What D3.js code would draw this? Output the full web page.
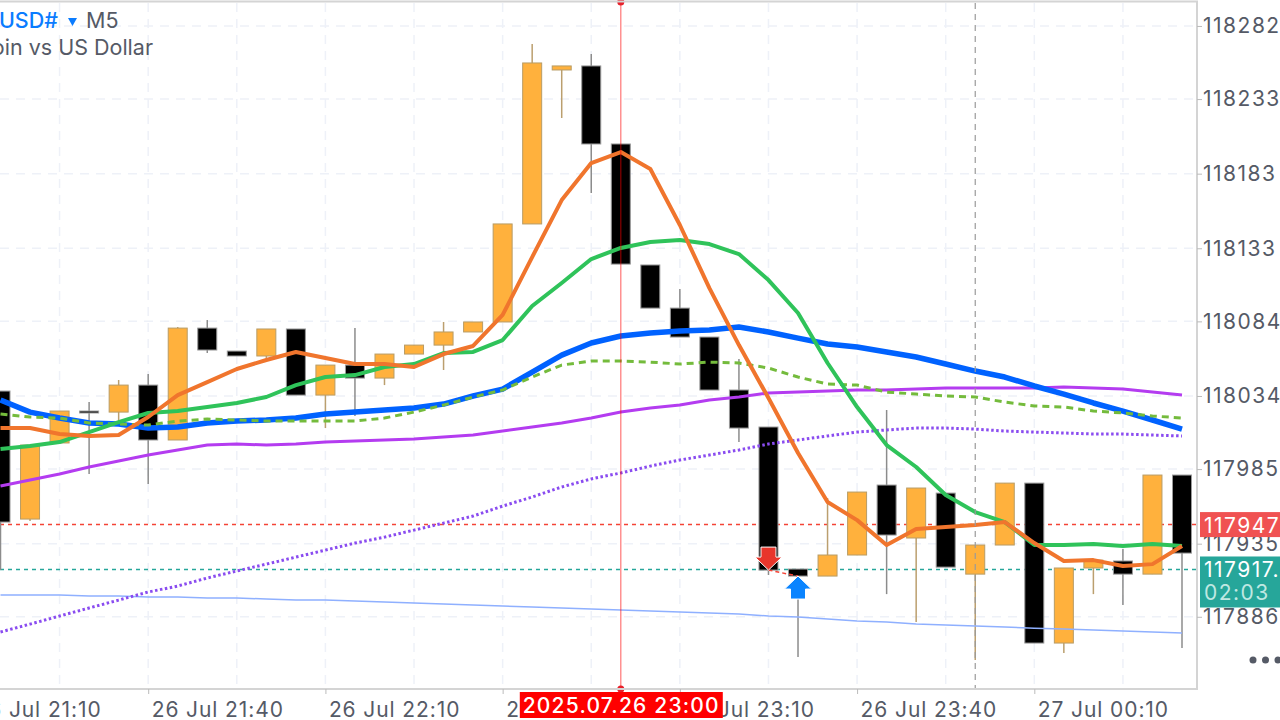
<!DOCTYPE html>
<html>
	<head>
		<title>BTCUSD# M5</title>
		<style>
			body, html {
				margin: 0;
				background: #fff;
				overflow: hidden;
			}
			text {
				font-family: Inter, "Noto Sans", sans-serif;
			}
		</style>
	</head>
	<body>

		<svg id="svg" width="1280" height="720"></svg>

		<script src="https://d3js.org/d3.v7.min.js"></script>
		<script>
			// Candle times, 5 minute bars
			const candleTimes = [
				'2025.07.26 21:15', '2025.07.26 21:20', '2025.07.26 21:25', '2025.07.26 21:30', '2025.07.26 21:35',
				'2025.07.26 21:40', '2025.07.26 21:45', '2025.07.26 21:50', '2025.07.26 21:55', '2025.07.26 22:00',
				'2025.07.26 22:05', '2025.07.26 22:10', '2025.07.26 22:15', '2025.07.26 22:20', '2025.07.26 22:25',
				'2025.07.26 22:30', '2025.07.26 22:35', '2025.07.26 22:40', '2025.07.26 22:45', '2025.07.26 22:50',
				'2025.07.26 22:55', '2025.07.26 23:00', '2025.07.26 23:05', '2025.07.26 23:10', '2025.07.26 23:15',
				'2025.07.26 23:20', '2025.07.26 23:25', '2025.07.26 23:30', '2025.07.26 23:35', '2025.07.26 23:40',
				'2025.07.26 23:45', '2025.07.26 23:50', '2025.07.26 23:55', '2025.07.27 00:00', '2025.07.27 00:05',
				'2025.07.27 00:10', '2025.07.27 00:15', '2025.07.27 00:20', '2025.07.27 00:25', '2025.07.27 00:30',
				'2025.07.27 00:35'
			]

			const opens = [118037.3, 117951.5, 118002.5, 118023.9, 118023.2, 118041.3, 118004.5, 118079.5, 118064.1, 118060.8, 118078.9, 118034.6, 118054.7, 118046.0, 118062.1, 118068.1, 118076.9, 118083.6, 118149.3, 118252.5, 118255.2, 118202.9, 118121.8, 118092.9, 118073.5, 118038.0, 118013.2, 117918.0, 117913.3, 117927.4, 117974.3, 117938.8, 117968.9, 117914.6, 117934.1, 117975.6, 117868.4, 117918.7, 117923.4, 117914.6, 117981.0]
			const highs = [118037.3, 118001.1, 118023.9, 118029.9, 118044.7, 118048.7, 118080.2, 118084.9, 118064.1, 118078.9, 118078.9, 118054.7, 118079.5, 118062.1, 118068.1, 118083.6, 118083.6, 118149.3, 118269.9, 118255.2, 118263.2, 118202.9, 118121.8, 118105.7, 118073.5, 118058.8, 118013.2, 117918.0, 117965.6, 117969.6, 118024.6, 117972.3, 117968.9, 117934.1, 117975.6, 117975.6, 117918.7, 117924.0, 117931.4, 117981.0, 117981.0]
			const lows = [117917.3, 117950.2, 118002.5, 117981.7, 118017.2, 117975.0, 118004.5, 118062.8, 118060.8, 118059.4, 118034.6, 118012.5, 118020.6, 118041.3, 118062.1, 118051.4, 118076.9, 118083.6, 118149.3, 118220.3, 118170.0, 118122.4, 118092.9, 118073.5, 118038.0, 118003.1, 117914.0, 117859.0, 117913.3, 117927.4, 117901.2, 117882.5, 117919.3, 117857.0, 117934.1, 117868.4, 117861.7, 117901.2, 117893.9, 117914.6, 117865.0]
			const closes = [117949.5, 118001.1, 118023.9, 118022.6, 118041.3, 118004.5, 118079.5, 118064.8, 118060.8, 118078.9, 118034.6, 118054.7, 118046.0, 118062.1, 118068.1, 118076.9, 118083.6, 118149.3, 118257.2, 118255.2, 118202.9, 118122.4, 118092.9, 118073.5, 118038.0, 118012.5, 117917.3, 117913.3, 117927.4, 117969.6, 117940.8, 117972.3, 117919.3, 117934.1, 117975.6, 117868.4, 117918.7, 117924.0, 117914.6, 117981.0, 117928.7]

			// Moving averages
			const maFast = [118012.5, 118012.5, 118008.5, 118007.2, 118007.8, 118019.9, 118034.6, 118043.3, 118052.1, 118058.1, 118063.5, 118059.4, 118055.4, 118055.4, 118053.4, 118062.1, 118067.5, 118088.3, 118127.1, 118165.3, 118190.1, 118197.5, 118186.1, 118148.6, 118106.3, 118068.1, 118032.6, 117995.8, 117962.9, 117950.8, 117934.1, 117944.8, 117946.1, 117947.5, 117949.5, 117935.4, 117923.4, 117924.0, 117920.0, 117921.3, 117933.4]
			const maGreen = [117998.4, 118000.4, 118003.1, 118009.8, 118016.5, 118022.6, 118023.9, 118026.6, 118029.3, 118033.3, 118041.3, 118046.7, 118048.0, 118053.4, 118055.4, 118062.8, 118063.5, 118071.5, 118094.3, 118109.7, 118125.8, 118133.2, 118137.2, 118138.5, 118135.8, 118129.1, 118111.7, 118089.6, 118056.1, 118026.6, 118001.1, 117986.4, 117967.6, 117956.2, 117949.5, 117934.1, 117934.1, 117934.8, 117933.4, 117934.8, 117933.4]
			const maBlue = [118031.3, 118023.2, 118019.2, 118015.9, 118015.2, 118012.5, 118013.2, 118015.9, 118017.2, 118017.9, 118019.2, 118021.9, 118023.2, 118024.6, 118025.9, 118028.6, 118034.0, 118038.6, 118050.0, 118061.4, 118069.5, 118074.2, 118076.2, 118077.5, 118078.2, 118080.2, 118076.9, 118072.8, 118068.8, 118066.8, 118063.5, 118060.1, 118055.4, 118050.7, 118046.7, 118040.7, 118035.3, 118029.3, 118023.9, 118017.9, 118011.8]
			const maLime = [118021.9, 118019.9, 118019.2, 118015.9, 118015.2, 118014.5, 118017.2, 118018.5, 118017.9, 118017.2, 118017.2, 118017.2, 118017.2, 118019.2, 118023.2, 118027.9, 118033.3, 118038.0, 118046.7, 118054.7, 118057.4, 118057.4, 118056.7, 118055.4, 118056.7, 118056.1, 118052.7, 118046.7, 118042.0, 118041.3, 118036.6, 118035.3, 118034.0, 118033.3, 118029.9, 118027.3, 118026.6, 118023.9, 118022.6, 118020.6, 118019.2]
			const maPurple = [117973.6, 117977.7, 117981.7, 117986.4, 117990.4, 117994.4, 117997.8, 118001.1, 118001.8, 118001.1, 118001.8, 118003.1, 118003.8, 118004.5, 118005.1, 118006.5, 118007.8, 118010.5, 118013.2, 118015.9, 118019.2, 118023.2, 118025.9, 118027.9, 118031.3, 118033.3, 118036.0, 118036.6, 118037.3, 118038.0, 118038.0, 118038.6, 118039.3, 118039.3, 118039.3, 118039.3, 118040.0, 118039.3, 118038.6, 118036.6, 118034.6]
			const maDotted = [117875.8, 117881.1, 117886.5, 117891.9, 117897.2, 117902.6, 117906.6, 117912.0, 117916.7, 117921.3, 117926.0, 117930.7, 117935.4, 117939.4, 117944.1, 117948.8, 117953.5, 117960.2, 117966.3, 117973.0, 117978.4, 117982.4, 117987.0, 117991.1, 117994.4, 117997.8, 118001.8, 118004.5, 118007.2, 118009.8, 118011.2, 118012.5, 118012.5, 118011.8, 118010.5, 118009.8, 118009.2, 118008.5, 118008.5, 118007.8, 118007.2]
			const maThin = [117900.6, 117900.6, 117900.6, 117899.9, 117899.9, 117899.2, 117899.2, 117898.6, 117898.6, 117897.9, 117897.2, 117897.2, 117896.5, 117895.9, 117895.2, 117894.5, 117893.9, 117893.2, 117892.5, 117891.9, 117891.2, 117890.5, 117889.8, 117889.2, 117888.5, 117887.8, 117886.5, 117885.8, 117884.5, 117883.1, 117882.5, 117881.1, 117880.5, 117879.8, 117879.1, 117878.4, 117877.8, 117877.1, 117876.4, 117875.8, 117875.1]

			// Axis ticks
			const priceTicks = [118282, 118233, 118183, 118133, 118084, 118034, 117985, 117935, 117886]
			const timeLabels = ['2025.07.26 21:10', '2025.07.26 21:40', '2025.07.26 22:10', '2025.07.26 22:40', '2025.07.26 23:10', '2025.07.26 23:40', '2025.07.27 00:10']
			const gridTimes = ['2025.07.26 21:25', '2025.07.26 21:40', '2025.07.26 21:55', '2025.07.26 22:10', '2025.07.26 22:25', '2025.07.26 22:40', '2025.07.26 22:55', '2025.07.26 23:10', '2025.07.26 23:25', '2025.07.26 23:40', '2025.07.26 23:55', '2025.07.27 00:10', '2025.07.27 00:25']

			// Price lines, markers
			const askPrice = 117947.8
			const bidPrice = 117917.7
			const selectedTime = '2025.07.26 23:00'
			const periodTime = '2025.07.27 00:00'
			const sellTime = '2025.07.26 23:25'
			const sellPrice = 117917.3
			const buyTime = '2025.07.26 23:30'
			const buyPrice = 117913.3

			const parseTime = d3.utcParse('%Y.%m.%d %H:%M')
			const plotRight = 1197
			const plotBottom = 689

			const xScale = d3.scaleUtc()
				.domain([parseTime(candleTimes[0]), parseTime(candleTimes[40])])
				.range([0.5, 1182])

			const yScale = d3.scaleLinear()
				.domain([118299.4, 117837.6])
				.range([0, plotBottom])

			const x = t => xScale(parseTime(t))

			const svg = d3.select('#svg')
			const grey = '#555a66'

			// Grid
			svg.append('g')
				.selectAll('line')
				.data(priceTicks)
				.enter()
				.append('line')
				.attr('x1', 0)
				.attr('x2', plotRight)
				.attr('y1', d => yScale(d))
				.attr('y2', d => yScale(d))
				.attr('stroke', '#eef1f8')
				.attr('stroke-width', 1.5)
				.attr('stroke-dasharray', '9,7')

			svg.append('g')
				.selectAll('line')
				.data(gridTimes)
				.enter()
				.append('line')
				.attr('x1', d => x(d))
				.attr('x2', d => x(d))
				.attr('y1', 3)
				.attr('y2', plotBottom)
				.attr('stroke', '#eef1f8')
				.attr('stroke-width', 1.5)
				.attr('stroke-dasharray', '9,7')

			// Horizontal price lines go under the candles
			svg.append('line')
				.attr('x1', 0).attr('x2', plotRight)
				.attr('y1', yScale(askPrice)).attr('y2', yScale(askPrice))
				.attr('stroke', '#f44336')
				.attr('stroke-width', 1.5)
				.attr('stroke-dasharray', '4,4')
			svg.append('line')
				.attr('x1', 0).attr('x2', plotRight)
				.attr('y1', yScale(bidPrice)).attr('y2', yScale(bidPrice))
				.attr('stroke', '#26a69a')
				.attr('stroke-width', 1.5)
				.attr('stroke-dasharray', '4,4')

			// Candles
			const candles = candleTimes.map((t, i) => ({
				t,
				open: opens[i],
				high: highs[i],
				low: lows[i],
				close: closes[i],
				up: closes[i] > opens[i]
			}))

			const bodyWidth = 19

			const candle = svg.append('g')
				.selectAll('g')
				.data(candles)
				.enter()
				.append('g')
				.attr('transform', d => `translate(${x(d.t)}, 0)`)

			candle.append('line')
				.attr('y1', d => yScale(d.high))
				.attr('y2', d => yScale(d.low))
				.attr('stroke', d => d.up ? '#bb9f6e' : '#8c8c8c')
				.attr('stroke-width', 1.5)

			candle.append('rect')
				.attr('x', -bodyWidth / 2)
				.attr('width', bodyWidth)
				.attr('y', d => yScale(Math.max(d.open, d.close)))
				.attr('height', d => Math.abs(yScale(d.open) - yScale(d.close)))
				.attr('fill', d => d.up ? '#ffb13d' : '#000')
				.attr('stroke', d => d.up ? '#b89c66' : '#999')
				.attr('stroke-width', 1)

			// Moving averages on top
			const maLine = d3.line()
				.x((d, i) => x(candleTimes[i]))
				.y(d => yScale(d))

			function drawLine(values, color, width, dash) {
				svg.append('path')
					.attr('d', maLine(values))
					.attr('fill', 'none')
					.attr('stroke', color)
					.attr('stroke-width', width)
					.attr('stroke-dasharray', dash)
					.attr('stroke-linejoin', 'round')
			}

			drawLine(maThin, '#8fb0ff', 1.5, null)
			drawLine(maDotted, '#8a4cf0', 3, '2.5,2.5')
			drawLine(maPurple, '#b43cf0', 3, null)
			drawLine(maBlue, '#0062ff', 5.5, null)
			drawLine(maLime, '#74bb3c', 3, '7,5')
			drawLine(maGreen, '#2fc35a', 4, null)
			drawLine(maFast, '#f0752d', 4, null)

			// Trade link and arrows
			svg.append('line')
				.attr('x1', x(sellTime)).attr('y1', yScale(sellPrice))
				.attr('x2', x(buyTime)).attr('y2', yScale(buyPrice))
				.attr('stroke', '#f44336')
				.attr('stroke-width', 1.5)
				.attr('stroke-dasharray', '4,3')

			svg.append('path')
				.attr('transform', `translate(${x(sellTime)}, ${yScale(sellPrice)})`)
				.attr('d', 'M0,0 L-13.5,-13 L-7.5,-13 L-7.5,-23 L7.5,-23 L7.5,-13 L13.5,-13 Z')
				.attr('fill', '#e8352b')
				.attr('stroke', '#fff')
				.attr('stroke-width', 1)
				.attr('stroke-linejoin', 'round')

			svg.append('path')
				.attr('transform', `translate(${x(buyTime)}, ${yScale(buyPrice)})`)
				.attr('d', 'M0,0 L13.5,13 L7.5,13 L7.5,23 L-7.5,23 L-7.5,13 L-13.5,13 Z')
				.attr('fill', '#0a84ff')
				.attr('stroke', '#fff')
				.attr('stroke-width', 1)
				.attr('stroke-linejoin', 'round')

			// Vertical markers
			svg.append('line')
				.attr('x1', x(periodTime)).attr('x2', x(periodTime))
				.attr('y1', 3).attr('y2', plotBottom)
				.attr('stroke', '#9a9a9a')
				.attr('stroke-width', 1.2)
				.attr('stroke-dasharray', '6,5')

			svg.append('line')
				.attr('x1', x(selectedTime)).attr('x2', x(selectedTime))
				.attr('y1', 3).attr('y2', plotBottom)
				.attr('stroke', '#ff0000')
				.attr('stroke-opacity', 0.5)
				.attr('stroke-width', 1.3)

			svg.append('circle')
				.attr('cx', x(selectedTime)).attr('cy', 2)
				.attr('r', 3.5)
				.attr('fill', '#e8202a')
			svg.append('circle')
				.attr('cx', x(selectedTime)).attr('cy', plotBottom)
				.attr('r', 3.5)
				.attr('fill', '#e8202a')

			// Frame
			svg.append('path')
				.attr('d', `M0,1.5 H${plotRight} V${plotBottom} H0`)
				.attr('fill', 'none')
				.attr('stroke', '#d4d4d4')
				.attr('stroke-width', 2)

			// Axes
			const yAxis = d3.axisRight(yScale)
				.tickValues(priceTicks)
				.tickFormat(d3.format('d'))
				.tickSize(5)
				.tickPadding(1)

			const yAxisG = svg.append('g')
				.attr('transform', `translate(${plotRight}, 0)`)
				.call(yAxis)
			yAxisG.select('.domain').remove()
			yAxisG.selectAll('line').attr('stroke', '#bbb')
			yAxisG.selectAll('text')
				.attr('font-size', 21)
				.attr('letter-spacing', 1.5)
				.attr('fill', grey)
				.style('font-family', 'Inter, sans-serif')

			const xAxis = d3.axisBottom(xScale)
				.tickValues(timeLabels.map(parseTime))
				.tickFormat(d3.utcFormat('%d %b %H:%M'))
				.tickSize(5)
				.tickPadding(8)

			const xAxisG = svg.append('g')
				.attr('transform', `translate(0, ${plotBottom})`)
				.call(xAxis)
			xAxisG.select('.domain').remove()
			xAxisG.selectAll('line').attr('stroke', '#bbb')
			xAxisG.selectAll('text')
				.attr('text-anchor', 'start')
				.attr('dx', 3)
				.attr('font-size', 21)
				.attr('letter-spacing', 0.9)
				.attr('fill', grey)
				.style('font-family', 'Inter, sans-serif')

			// Price tags on the axis
			svg.append('rect')
				.attr('x', 1200).attr('y', yScale(askPrice) - 12.5)
				.attr('width', 80).attr('height', 25)
				.attr('fill', '#f05252')
			svg.append('text')
				.attr('x', 1204).attr('y', yScale(askPrice) + 8)
				.attr('font-size', 21)
				.attr('letter-spacing', 1.5)
				.attr('fill', '#fff')
				.text(d3.format('d')(Math.floor(askPrice)))

			svg.append('rect')
				.attr('x', 1200).attr('y', yScale(bidPrice) - 13)
				.attr('width', 80).attr('height', 51)
				.attr('fill', '#26a69a')
			svg.append('text')
				.attr('x', 1204).attr('y', yScale(bidPrice) + 8)
				.attr('font-size', 21)
				.attr('letter-spacing', 1.5)
				.attr('fill', '#fff')
				.text(Math.floor(bidPrice) + '.7')
			svg.append('text')
				.attr('x', 1204).attr('y', yScale(bidPrice) + 31)
				.attr('font-size', 21)
				.attr('letter-spacing', 1.5)
				.attr('fill', '#bfe8e2')
				.text('02:03')

			// Selected time tag
			svg.append('rect')
				.attr('x', x(selectedTime) - 101).attr('y', 692)
				.attr('width', 203).attr('height', 26)
				.attr('fill', '#ff0000')
			svg.append('text')
				.attr('x', x(selectedTime) + 0.5).attr('y', 713)
				.attr('text-anchor', 'middle')
				.attr('font-size', 21)
				.attr('font-weight', 500)
				.attr('letter-spacing', 1.2)
				.attr('fill', '#fff')
				.text(selectedTime)

			// Title
			const title = svg.append('g')
			title.append('text')
				.attr('x', 58).attr('y', 28)
				.attr('text-anchor', 'end')
				.attr('font-size', 21.5)
				.attr('font-weight', 500)
				.attr('fill', '#0a7cff')
				.text('BTCUSD#')
			title.append('path')
				.attr('d', 'M68,18 H77 L72.5,26 Z')
				.attr('fill', '#0a7cff')
			title.append('text')
				.attr('x', 86).attr('y', 28)
				.attr('font-size', 21.5)
				.attr('fill', grey)
				.text('M5')
			title.append('text')
				.attr('x', 153).attr('y', 55)
				.attr('text-anchor', 'end')
				.attr('font-size', 21.5)
				.attr('fill', grey)
				.text('Bitcoin vs US Dollar')

			// More button
			svg.append('g')
				.selectAll('circle')
				.data(['a', 'b', 'c'])
				.enter()
				.append('circle')
				.attr('cx', (d, i) => 1253 + i * 12.5)
				.attr('cy', 660)
				.attr('r', 3.5)
				.attr('fill', grey)
		</script>
	</body>
</html>
